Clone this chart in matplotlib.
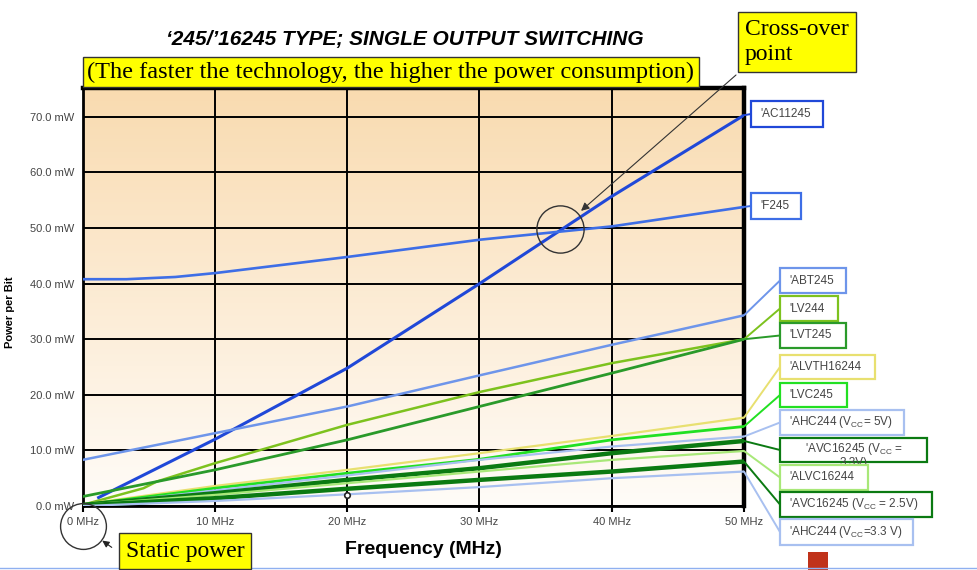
import numpy as np
import matplotlib
matplotlib.use("Agg")
import matplotlib.pyplot as plt
from matplotlib.patches import Rectangle, FancyArrowPatch

# --- datos (MHz -> mW por bit) ---
freq = [0, 10, 20, 30, 40, 50]

ac11245_x = [1.1, 10, 20, 30, 40, 50]
ac11245 = [1.4, 12.0, 24.8, 40.0, 55.7, 70.3]

f245_x = [0, 3.3, 7, 10, 20, 30, 40, 50]
f245 = [40.8, 40.8, 41.2, 41.9, 44.8, 47.9, 50.3, 53.8]

abt245 = [8.3, 13.1, 17.9, 23.5, 29.0, 34.3]

lv244_x = [0, 4.6, 5.6, 10, 20, 30, 40, 50]
lv244 = [0.2, 3.2, 4.4, 7.7, 14.6, 20.5, 25.7, 30.0]

lvt245 = [1.7, 6.5, 11.9, 17.9, 23.9, 30.0]
alvth16244 = [0.3, 3.6, 6.5, 9.5, 12.6, 15.9]
lvc245 = [0.2, 3.2, 5.9, 8.4, 11.9, 14.3]
ahc244_5v = [0.1, 2.8, 5.5, 8.3, 10.7, 12.5]
avc16245_33 = [0.2, 2.3, 4.7, 6.8, 9.5, 11.7]
alvc16244 = [0.2, 2.0, 4.1, 6.2, 8.3, 9.9]
avc16245_25 = [0.1, 1.4, 3.1, 4.7, 6.2, 8.0]
ahc244_33 = [0.0, 0.9, 2.1, 3.4, 5.0, 6.2]

crossover = (36.1, 49.8)
marca = (20, 2.0)

y_ticks = [0, 10, 20, 30, 40, 50, 60, 70]
y_labels = [f"{v:.1f} mW" for v in y_ticks]
x_labels = [f"{v} MHz" for v in freq]

VCC = r"V$_{\mathregular{CC}}$"

# (etiqueta, x, y, color, grosor, caja: izq, arriba, ancho, alto en px)
series = [
    ("'AC11245", ac11245_x, ac11245, "#2048d8", 2.2, (751, 101, 72, 26)),
    ("'F245", f245_x, f245, "#3e6ee6", 1.9, (751, 193, 50, 26)),
    ("'ABT245", freq, abt245, "#6e95ea", 1.8, (780, 268, 66, 25)),
    ("'LV244", lv244_x, lv244, "#7dc21e", 1.8, (780, 296, 58, 25)),
    ("'LVT245", freq, lvt245, "#2a9a2a", 2.0, (780, 323, 66, 25)),
    ("'ALVTH16244", freq, alvth16244, "#e8e070", 1.6, (780, 355, 95, 24)),
    ("'LVC245", freq, lvc245, "#22e022", 2.0, (780, 383, 67, 24)),
    ("'AHC244 (" + VCC + "= 5V)", freq, ahc244_5v, "#a8c0f0", 1.6, (780, 410, 124, 25)),
    ("'AVC16245 (" + VCC + " =\n3.3V)", freq, avc16245_33, "#0b7a12", 3.2, (780, 438, 147, 24)),
    ("'ALVC16244", freq, alvc16244, "#a8e878", 1.6, (780, 465, 88, 25)),
    ("'AVC16245 (" + VCC + " = 2.5V)", freq, avc16245_25, "#0b7a12", 3.2, (780, 492, 152, 25)),
    ("'AHC244 (" + VCC + "=3.3 V)", freq, ahc244_33, "#a8c0f0", 1.6, (780, 519, 133, 26)),
]

plt.rcParams['font.family'] = ['Liberation Sans', 'DejaVu Sans']
plt.rcParams['mathtext.fontset'] = 'custom'
plt.rcParams['mathtext.rm'] = 'Liberation Sans'

W, H = 978, 570
fig = plt.figure(figsize=(W / 100, H / 100), dpi=100)


def fx(px):
    return px / W


def fy(py):
    return 1 - py / H


ax = fig.add_axes([fx(82.7), fy(506), fx(744) - fx(82.7), fy(88) - fy(506)])
ymax = 75.2

# fondo degradado (arriba color canela, abajo casi blanco)
grad = np.linspace(0, 1, 256).reshape(-1, 1)
top = np.array([249, 219, 176]) / 255
bot = np.array([255, 252, 248]) / 255
img = top[None, None, :] * (1 - grad[:, :, None]) + bot[None, None, :] * grad[:, :, None]
ax.imshow(img, extent=[0, 50, 0, ymax], origin='upper', aspect='auto', zorder=0)
ax.set_xlim(0, 50)
ax.set_ylim(0, ymax)

ax.set_xticks(freq)
ax.set_xticklabels(x_labels)
ax.set_yticks(y_ticks)
ax.set_yticklabels(y_labels)
ax.grid(True, color='black', lw=1.4, zorder=1)
ax.set_axisbelow(True)
ax.tick_params(axis='x', length=4, width=1.5, pad=4, labelsize=8, labelcolor='#444')
ax.tick_params(axis='y', length=0, pad=6, labelsize=8, labelcolor='#444')
for s in ['left', 'bottom']:
    ax.spines[s].set_linewidth(2)
for s in ['top', 'right']:
    ax.spines[s].set_linewidth(3.2)

z = 3
for label, xs, ys, color, lw, box in series:
    ax.plot(xs, ys, color=color, lw=lw, zorder=z, solid_capstyle='butt')
    left, topp, w, h = box
    ax.annotate("", xy=(xs[-1], ys[-1]), xycoords='data',
                xytext=(fx(left), fy(topp + h / 2)), textcoords='figure fraction',
                arrowprops=dict(arrowstyle='-', color=color, lw=1.4, shrinkA=0, shrinkB=0),
                annotation_clip=False, zorder=z)
    z += 1

# cajas de etiquetas
zb = 20
for label, xs, ys, color, lw, box in series:
    left, topp, w, h = box
    fig.patches.append(Rectangle((fx(left), fy(topp + h)), fx(w), h / H,
                                 transform=fig.transFigure, facecolor='white',
                                 edgecolor=color, lw=1.6, zorder=zb))
    if "\n" in label:
        fig.text(fx(left + w / 2), fy(topp + 3), label, ha='center', va='top',
                 fontsize=8.5, color='#444', zorder=zb + 1, linespacing=1.0)
    else:
        fig.text(fx(left + 9), fy(topp + h / 2), label, ha='left', va='center',
                 fontsize=8.5, color='#444', zorder=zb + 1)
    zb += 2

# circulos y marcas
ax.plot(*crossover, 'o', ms=34, mfc='none', mec='#333', mew=1, zorder=30)
ax.plot(*marca, 'o', ms=4, mfc='white', mec='#222', mew=1.2, zorder=30, clip_on=False)
ax.plot(0, -3.6, 'o', ms=33, mfc='none', mec='#333', mew=1, zorder=30, clip_on=False)

# titulos
fig.text(fx(405), fy(40), "\u2018245/\u201916245 TYPE; SINGLE OUTPUT SWITCHING",
         ha='center', va='center', fontsize=15, fontweight='bold', style='italic')
fig.text(fx(391), fy(72), "(The faster the technology, the higher the power consumption)",
         ha='center', va='center', fontsize=17.5, family='Liberation Serif',
         bbox=dict(boxstyle='square,pad=0.18', facecolor='#ffff00', edgecolor='#333', lw=1))
fig.text(fx(745), fy(42), "Cross-over\npoint", ha='left', va='center', fontsize=17,
         family='Liberation Serif', linespacing=1.3,
         bbox=dict(boxstyle='square,pad=0.3', facecolor='#ffff00', edgecolor='#333', lw=1))
ax.annotate("", xy=crossover, xytext=(fx(736), fy(75)), textcoords='figure fraction',
            arrowprops=dict(arrowstyle='-|>', color='#333', lw=0.8, shrinkA=0, shrinkB=20,
                            mutation_scale=12),
            annotation_clip=False, zorder=31)
fig.text(fx(185), fy(551), "Static power", ha='center', va='center', fontsize=17,
         family='Liberation Serif',
         bbox=dict(boxstyle='square,pad=0.3', facecolor='#ffff00', edgecolor='#333', lw=1))
fig.add_artist(FancyArrowPatch(
    (fx(114), fy(549)), (fx(100), fy(539)), transform=fig.transFigure,
    arrowstyle='-|>', mutation_scale=10, color='#222', lw=0.8))

fig.text(fx(423), fy(549), "Frequency (MHz)", ha='center', va='center',
         fontsize=14, fontweight='bold')
fig.text(fx(10), fy(312), "Power per Bit", ha='center', va='center', rotation=90,
         fontsize=8, fontweight='bold')

# linea inferior y logo
fig.add_artist(plt.Line2D([0, 1], [fy(568), fy(568)], transform=fig.transFigure,
                          color='#8fb0f0', lw=1))
fig.patches.append(Rectangle((fx(808), 0), fx(20), 18 / H, transform=fig.transFigure,
                             facecolor='#c0321a', edgecolor='none'))

fig.savefig("out.png", dpi=100)
